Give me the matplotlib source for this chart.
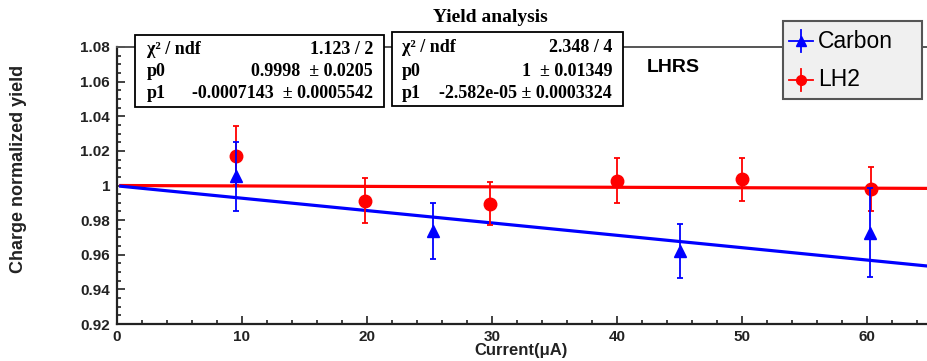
import numpy as np
import matplotlib
matplotlib.use("Agg")
import matplotlib.pyplot as plt
from matplotlib.patches import Rectangle
from matplotlib.lines import Line2D
from matplotlib.ticker import MultipleLocator

# ---- data ----
carbon_x = [9.5, 25.3, 45.0, 60.2]
carbon_y = [1.0052, 0.9736, 0.9623, 0.9728]
carbon_err = [0.0201, 0.0162, 0.0155, 0.0255]

lh2_x = [9.5, 19.8, 29.8, 40.0, 50.0, 60.3]
lh2_y = [1.0173, 0.9913, 0.9896, 1.0027, 1.0035, 0.9980]
lh2_err = [0.0172, 0.0131, 0.0127, 0.0130, 0.0125, 0.0126]

# linear fit results (p0 + p1*x)
carbon_fit = [0.9998, -0.0007143]
lh2_fit = [1.0, -2.582e-05]

carbon_stats = [("χ² / ndf", "1.123 / 2"),
                ("p0", "0.9998  ± 0.0205"),
                ("p1", "-0.0007143  ± 0.0005542")]
lh2_stats = [("χ² / ndf", "2.348 / 4"),
             ("p0", "1  ± 0.01349"),
             ("p1", "-2.582e-05 ± 0.0003324")]

W, H = 927, 361


def fx(x):
    return x / W


def fy(y):
    return 1 - y / H


fig = plt.figure(figsize=(W / 100, H / 100), dpi=100)
ax = fig.add_axes([fx(117), fy(324), fx(927 - 117), (324 - 47) / H])

sans = "Liberation Sans"
serif = "Liberation Serif"

# fit lines
xf = np.array([0.3, 64.8])
ax.plot(xf, lh2_fit[0] + lh2_fit[1] * xf, color="red", lw=2.3, zorder=2)
ax.plot(xf, carbon_fit[0] + carbon_fit[1] * xf, color="blue", lw=2.3, zorder=2)

ax.errorbar(lh2_x, lh2_y, yerr=lh2_err, fmt="o", color="red", ms=9,
            elinewidth=1.3, capsize=2.5, capthick=1.3, zorder=3)
ax.errorbar(carbon_x, carbon_y, yerr=carbon_err, fmt="^", color="blue", ms=8.5,
            elinewidth=1.3, capsize=2.5, capthick=1.3, zorder=4)

ax.set_xlim(0, 64.8)
ax.set_ylim(0.92, 1.08)
ax.xaxis.set_major_locator(MultipleLocator(10))
ax.xaxis.set_minor_locator(MultipleLocator(2))
ax.yaxis.set_major_locator(MultipleLocator(0.02))
ax.yaxis.set_minor_locator(MultipleLocator(0.005))
ax.yaxis.set_major_formatter(plt.FuncFormatter(lambda v, p: f"{v:.2f}".rstrip("0").rstrip(".")))

ax.tick_params(which="both", direction="in", top=False, right=False,
               labelsize=11, width=1.2, color="#222222")
ax.tick_params(which="major", length=6)
ax.tick_params(which="minor", length=3)
ax.tick_params(axis="x", pad=4)
ax.tick_params(axis="y", pad=5)
for lab in ax.get_xticklabels() + ax.get_yticklabels():
    lab.set_fontfamily(sans)
    lab.set_fontweight("bold")
    lab.set_color("#222222")

ax.spines["right"].set_visible(False)
for s in ("left", "bottom"):
    ax.spines[s].set_linewidth(1.6)
    ax.spines[s].set_color("#222222")
ax.spines["top"].set_linewidth(1.4)
ax.spines["top"].set_color("#555555")

fig.text(fx(19), fy(169), "Charge normalized yield", rotation=90, ha="center",
         va="center", fontsize=13, fontweight="bold", family=sans, color="#222222")
fig.text(fx(521), fy(351), "Current(μA)", ha="center", va="center",
         fontsize=12, fontweight="bold", family=sans, color="#222222")
fig.text(fx(490), fy(18), "Yield analysis", ha="center", va="center",
         fontsize=14, fontweight="bold", family=serif)
fig.text(fx(673), fy(67), "LHRS", ha="center", va="center",
         fontsize=14, fontweight="bold", family=sans)


def stat_box(x0, x1, y0, y1, rows, ys, lx, rx):
    fig.add_artist(Rectangle((fx(x0), fy(y1)), fx(x1 - x0), (y1 - y0) / H,
                             transform=fig.transFigure, facecolor="white",
                             edgecolor="black", lw=1.3, zorder=5))
    for (name, val), y in zip(rows, ys):
        fig.text(fx(lx), fy(y), name, ha="left", va="center", fontsize=13,
                 fontweight="bold", family=serif, zorder=6)
        fig.text(fx(rx), fy(y), val, ha="right", va="center", fontsize=13,
                 fontweight="bold", family=serif, zorder=6)


stat_box(135, 384, 35, 107, carbon_stats, [49, 71, 94], 147, 373)
stat_box(392, 623, 32, 106, lh2_stats, [48, 71, 94], 402, 612)

# legend
fig.add_artist(Rectangle((fx(783), fy(99)), fx(922 - 783), (99 - 21) / H,
                         transform=fig.transFigure, facecolor="#f0f0f0",
                         edgecolor="#555555", lw=1.5, zorder=5))
for y, col, mk, name in [(41, "blue", "^", "Carbon"), (80, "red", "o", "LH2")]:
    fig.add_artist(Line2D([fx(789), fx(813)], [fy(y), fy(y)], color=col, lw=1.3,
                          transform=fig.transFigure, zorder=6))
    fig.add_artist(Line2D([fx(801), fx(801)], [fy(y - 11), fy(y + 11)], color=col, lw=1.3,
                          transform=fig.transFigure, zorder=6))
    fig.add_artist(Line2D([fx(801)], [fy(y)], color=col, marker=mk, ms=7,
                          transform=fig.transFigure, zorder=7))
    fig.text(fx(818), fy(y), name, ha="left", va="center", fontsize=16.5,
             family=sans, zorder=7)

fig.savefig("out.png", dpi=100)
